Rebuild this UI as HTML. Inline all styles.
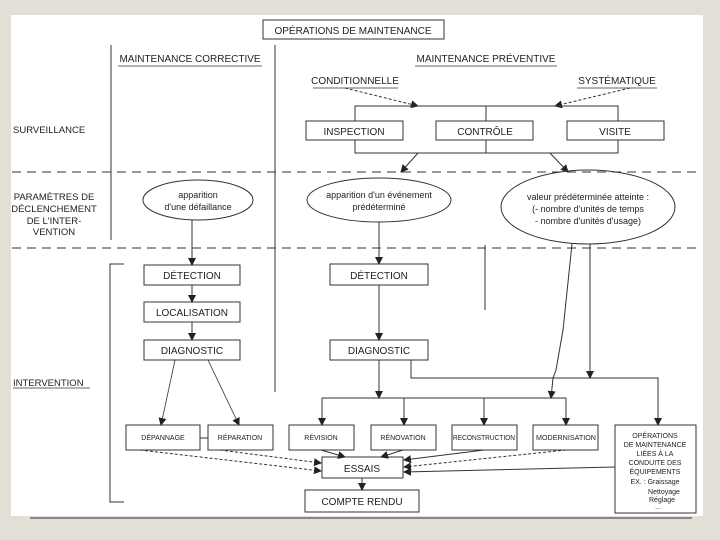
<!DOCTYPE html>
<html><head><meta charset="utf-8"><style>
html,body{margin:0;padding:0;background:#e4dfd6;}
svg{display:block;}
text{font-family:"Liberation Sans",sans-serif;fill:#222;}
</style></head><body>
<svg width="720" height="540" viewBox="0 0 720 540" xmlns="http://www.w3.org/2000/svg">
<defs>
<marker id="a" markerWidth="8" markerHeight="8" refX="7" refY="4" orient="auto" markerUnits="userSpaceOnUse"><path d="M0,0 L8,4 L0,8 z" fill="#222"/></marker>
</defs>
<rect x="11" y="15" width="692" height="501" fill="#fff"/>
<line x1="30" y1="518" x2="692" y2="518" stroke="#888" stroke-width="2"/>
<g stroke="#333" stroke-width="1" fill="none">
<rect x="263" y="20" width="181" height="19"/>
<line x1="111" y1="45" x2="111" y2="240"/>
<line x1="275" y1="45" x2="275" y2="392"/>
<line x1="485" y1="245" x2="485" y2="310"/>
<line x1="118" y1="66" x2="262" y2="66" stroke-width="0.7"/>
<line x1="415" y1="66" x2="557" y2="66" stroke-width="0.7"/>
<line x1="313" y1="88" x2="398" y2="88" stroke-width="0.7"/>
<line x1="577" y1="88" x2="657" y2="88" stroke-width="0.7"/>
<line x1="13" y1="388" x2="90" y2="388" stroke-width="0.7"/>
<line x1="345" y1="88" x2="418" y2="106" stroke-dasharray="3,2" marker-end="url(#a)"/>
<line x1="630" y1="88" x2="555" y2="106" stroke-dasharray="3,2" marker-end="url(#a)"/>
<rect x="355" y="106" width="263" height="47"/>
<line x1="486" y1="106" x2="486" y2="153"/>
<rect x="306" y="121" width="97" height="19" fill="#fff"/>
<rect x="436" y="121" width="97" height="19" fill="#fff"/>
<rect x="567" y="121" width="97" height="19" fill="#fff"/>
<line x1="12" y1="172" x2="700" y2="172" stroke-dasharray="9,6"/>
<line x1="12" y1="248" x2="700" y2="248" stroke-dasharray="9,6"/>
<line x1="418" y1="153" x2="401" y2="172" marker-end="url(#a)"/>
<line x1="550" y1="153" x2="568" y2="172" marker-end="url(#a)"/>
<ellipse cx="198" cy="200" rx="55" ry="20"/>
<ellipse cx="379" cy="200" rx="72" ry="22"/>
<ellipse cx="588" cy="207" rx="87" ry="37"/>
<polyline points="124,264 110,264 110,502 124,502"/>
<line x1="192" y1="220" x2="192" y2="265" marker-end="url(#a)"/>
<line x1="379" y1="222" x2="379" y2="264" marker-end="url(#a)"/>
<rect x="144" y="265" width="96" height="20"/>
<rect x="144" y="302" width="96" height="20"/>
<rect x="144" y="340" width="96" height="20"/>
<line x1="192" y1="285" x2="192" y2="302" marker-end="url(#a)"/>
<line x1="192" y1="322" x2="192" y2="340" marker-end="url(#a)"/>
<rect x="330" y="264" width="98" height="21"/>
<rect x="330" y="340" width="98" height="20"/>
<line x1="379" y1="285" x2="379" y2="340" marker-end="url(#a)"/>
<line x1="379" y1="360" x2="379" y2="398" marker-end="url(#a)"/>
<polyline points="411,360 411,378 658,378 658,425" marker-end="url(#a)"/>
<line x1="590" y1="244" x2="590" y2="378" marker-end="url(#a)"/>
<path d="M572,244 L563,330 L556,370 L553,378 L551,398" marker-end="url(#a)"/>
<line x1="322" y1="398" x2="566" y2="398"/>
<line x1="322" y1="398" x2="322" y2="425" marker-end="url(#a)"/>
<line x1="404" y1="398" x2="404" y2="425" marker-end="url(#a)"/>
<line x1="484" y1="398" x2="484" y2="425" marker-end="url(#a)"/>
<line x1="566" y1="398" x2="566" y2="425" marker-end="url(#a)"/>
<line x1="175" y1="360" x2="161" y2="425" marker-end="url(#a)" stroke-width="0.8"/>
<line x1="208" y1="360" x2="239" y2="425" marker-end="url(#a)" stroke-width="0.8"/>
<rect x="126" y="425" width="74" height="25"/>
<rect x="208" y="425" width="65" height="25"/>
<line x1="200" y1="438" x2="208" y2="438"/>
<rect x="289" y="425" width="65" height="25"/>
<rect x="371" y="425" width="65" height="25"/>
<rect x="452" y="425" width="65" height="25"/>
<rect x="533" y="425" width="65" height="25"/>
<rect x="615" y="425" width="81" height="88"/>
<rect x="322" y="457" width="81" height="21"/>
<rect x="305" y="490" width="114" height="22"/>
<line x1="362" y1="478" x2="362" y2="490" marker-end="url(#a)"/>
<line x1="140" y1="450" x2="321" y2="471" stroke-dasharray="3,2" marker-end="url(#a)"/>
<line x1="220" y1="450" x2="321" y2="463" stroke-dasharray="3,2" marker-end="url(#a)"/>
<line x1="321" y1="450" x2="345" y2="457" marker-end="url(#a)"/>
<line x1="403" y1="450" x2="381" y2="457" marker-end="url(#a)"/>
<line x1="484" y1="450" x2="404" y2="460" marker-end="url(#a)"/>
<line x1="566" y1="450" x2="404" y2="467" stroke-dasharray="3,2" marker-end="url(#a)"/>
<line x1="615" y1="467" x2="404" y2="472" marker-end="url(#a)"/>
</g>
<g font-size="10" text-anchor="middle">
<text x="353" y="34">OPÉRATIONS DE MAINTENANCE</text>
<text x="190" y="62">MAINTENANCE CORRECTIVE</text>
<text x="486" y="62">MAINTENANCE PRÉVENTIVE</text>
<text x="355" y="84">CONDITIONNELLE</text>
<text x="617" y="84">SYSTÉMATIQUE</text>
<text x="354" y="135">INSPECTION</text>
<text x="485" y="135">CONTRÔLE</text>
<text x="615" y="135">VISITE</text>
<text x="192" y="279">DÉTECTION</text>
<text x="192" y="316">LOCALISATION</text>
<text x="192" y="354">DIAGNOSTIC</text>
<text x="379" y="279">DÉTECTION</text>
<text x="379" y="354">DIAGNOSTIC</text>
<text x="362" y="472">ESSAIS</text>
<text x="362" y="505">COMPTE RENDU</text>
</g>
<g font-size="9.5">
<text x="13" y="133">SURVEILLANCE</text>
<text x="13" y="386">INTERVENTION</text>
<text x="54" y="200" text-anchor="middle">PARAMÈTRES DE</text>
<text x="54" y="212" text-anchor="middle">DÉCLENCHEMENT</text>
<text x="54" y="224" text-anchor="middle">DE L'INTER-</text>
<text x="54" y="235" text-anchor="middle">VENTION</text>
</g>
<g font-size="9" text-anchor="middle">
<text x="198" y="198">apparition</text>
<text x="198" y="210">d'une défaillance</text>
<text x="379" y="198">apparition d'un événement</text>
<text x="379" y="210">prédéterminé</text>
<text x="588" y="200">valeur prédéterminée atteinte :</text>
<text x="588" y="212">(- nombre d'unités de temps</text>
<text x="588" y="224">- nombre d'unités d'usage)</text>
</g>
<g font-size="7" text-anchor="middle">
<text x="163" y="440">DÉPANNAGE</text>
<text x="240" y="440">RÉPARATION</text>
<text x="321" y="440">RÉVISION</text>
<text x="403" y="440">RÉNOVATION</text>
<text x="484" y="440" textLength="62" lengthAdjust="spacingAndGlyphs">RECONSTRUCTION</text>
<text x="566" y="440" textLength="60" lengthAdjust="spacingAndGlyphs">MODERNISATION</text>
<text x="655" y="438">OPÉRATIONS</text>
<text x="655" y="447">DE MAINTENANCE</text>
<text x="655" y="456">LIÉES À LA</text>
<text x="655" y="465">CONDUITE DES</text>
<text x="655" y="474">ÉQUIPEMENTS</text>
<text x="655" y="484">EX. : Graissage</text>
<text x="664" y="494">Nettoyage</text>
<text x="662" y="502">Réglage</text>
<text x="658" y="509">...</text>
</g>
</svg>
</body></html>
